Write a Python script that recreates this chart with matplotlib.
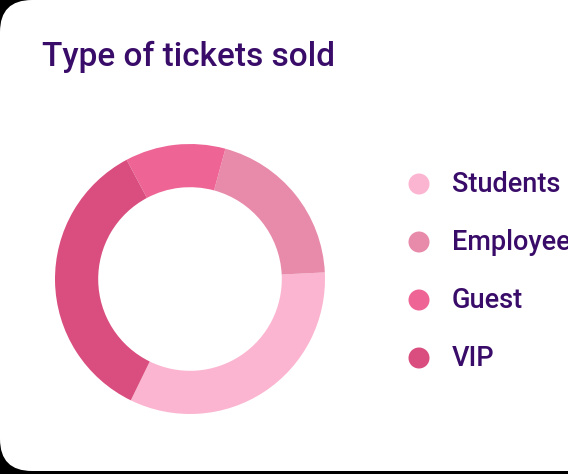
import matplotlib.pyplot as plt
from matplotlib.patches import FancyBboxPatch, Circle

# data
categories = ['Students', 'Employees', 'Guest', 'VIP']
values = [33, 20, 12, 35]
colors = ['#FBB5D0', '#E88BAB', '#EE6595', '#D94E7E']

W, H = 568, 474
fig = plt.figure(figsize=(W / 100, H / 100), dpi=100, facecolor='black')

# background card, pixel coordinates (y down)
bg = fig.add_axes([0, 0, 1, 1])
bg.set_xlim(0, W)
bg.set_ylim(H, 0)
bg.axis('off')
card = FancyBboxPatch((0, 0), 680, 471, boxstyle='round,pad=0,rounding_size=32',
                      facecolor='white', edgecolor='none')
bg.add_patch(card)

txt = '#3A0C69'
fnt = 'Roboto'
bg.text(42, 66, 'Type of tickets sold', fontsize=24, color=txt,
        family=fnt, weight='medium', va='baseline', ha='left')

# legend
for i, (name, c) in enumerate(zip(categories, colors)):
    y = 184 + i * 58
    bg.add_patch(Circle((419, y), 10.5, facecolor=c, edgecolor='none'))
    bg.text(452, y + 8.5, name, fontsize=19.5, color=txt, family=fnt,
            weight='medium', va='baseline', ha='left')

# donut
cx, cy, r = 190, 279, 135
ax = fig.add_axes([(cx - r) / W, (H - cy - r) / H, 2 * r / W, 2 * r / H])
ax.pie(values, colors=colors, startangle=-116, counterclock=True,
       radius=1, wedgeprops=dict(width=0.32, edgecolor='none'))
ax.set_xlim(-1, 1)
ax.set_ylim(-1, 1)
ax.set_aspect('equal')
ax.axis('off')

fig.savefig('out.png', dpi=100, facecolor='black')
